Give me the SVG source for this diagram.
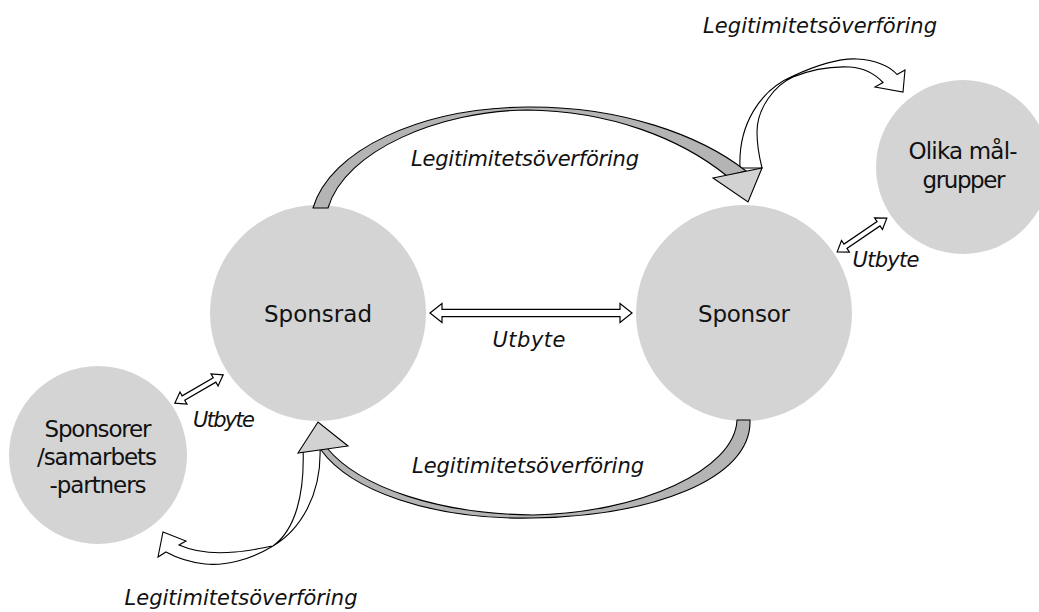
<svg xmlns="http://www.w3.org/2000/svg" width="1039" height="612" viewBox="0 0 1039 612">
  <style>
    .party { fill: #d4d4d4; }
    .label { font-family: "DejaVu Sans", "Liberation Sans", sans-serif; font-size: 23px; fill: #111; text-anchor: middle; }
    .note { font-family: "DejaVu Sans", "Liberation Sans", sans-serif; font-size: 21px; font-style: italic; fill: #111; text-anchor: middle; }
    .band { fill: #b4b4b4; stroke: #000; stroke-width: 1.1; stroke-linejoin: round; }
    .head { fill: #d2d2d2; stroke: #000; stroke-width: 1.1; stroke-linejoin: miter; }
    .ribbon { fill: #fff; stroke: #000; stroke-width: 1.1; stroke-linejoin: miter; }
    .swap { fill: #fff; stroke: #000; stroke-width: 1.2; stroke-linejoin: miter; }
  </style>
  <rect width="1039" height="612" fill="#fff"/>

  <!-- parties -->
  <g id="sponsrad">
    <circle class="party" cx="318" cy="313" r="108"/>
    <text class="label" x="318" y="322" textLength="108">Sponsrad</text>
  </g>
  <g id="sponsor">
    <circle class="party" cx="744" cy="313" r="108"/>
    <text class="label" x="744" y="322" textLength="92">Sponsor</text>
  </g>
  <g id="malgrupper">
    <circle class="party" cx="963" cy="167" r="87"/>
    <text class="label" x="963" y="159" textLength="109">Olika mål-</text>
    <text class="label" x="964" y="188" textLength="83">grupper</text>
  </g>
  <g id="samarbetspartners">
    <circle class="party" cx="98" cy="455" r="89"/>
    <text class="label" x="98" y="437" textLength="107">Sponsorer</text>
    <text class="label" x="97" y="465" textLength="120">/samarbets</text>
    <text class="label" x="98" y="493" textLength="97">-partners</text>
  </g>

  <!-- connectors -->
  <g id="connectors">
    <!-- white legitimacy ribbons passed onward (pinched where the ribbon twists) -->
    <path class="ribbon" d="M 740 168 C 738 125, 760 90, 793 76 C 815 66, 838 58, 857 59 C 875 60, 890 66, 897 74.5 L 905 70 L 903 92 L 875 87 L 883 82.5 C 875 74, 865 68, 850 67 C 830 66, 810 70, 793 77 C 775 85, 757 108, 757 132 C 757 148, 760 160, 762 168 Z"/>
    <path class="ribbon" d="M 320 447 C 322 495, 300 530, 273 546 C 250 560, 225 566, 205 564 C 188 562, 175 557, 166 552 L 158 557 L 163 532 L 186 541 L 179 545 C 195 552, 215 554, 235 552 C 250 551, 262 548, 273 546 C 295 530, 305 495, 303 447 Z"/>

    <!-- gray legitimacy arrow: Sponsrad to Sponsor -->
    <path class="band" d="M 313 208 C 330 150, 420 108, 527 107 C 620 106, 700 135, 746 171 L 727 176 C 680 138, 610 111, 527 110 C 440 111, 345 150, 328 208 Z"/>
    <polygon class="head" points="762,168 748,202 713,178"/>

    <!-- gray legitimacy arrow: Sponsor to Sponsrad -->
    <path class="band" d="M 750 420 C 752 480, 650 516, 533 518 C 430 520, 350 490, 321 450 L 327 448 C 360 488, 440 514, 533 515 C 640 513, 735 470, 737 420 Z"/>
    <polygon class="head" points="298,453 318,422 348,446"/>

    <!-- exchange arrows -->
    <polygon class="swap" transform="translate(531 313)" points="-101,0 -89,-9.5 -89,-3.7 89,-3.7 89,-9.5 101,0 89,9.5 89,3.7 -89,3.7 -89,9.5"/>
    <polygon class="swap" transform="translate(199 389) rotate(-30.3)" points="-28,0 -18,-7 -18,-2.6 18,-2.6 18,-7 28,0 18,7 18,2.6 -18,2.6 -18,7"/>
    <polygon class="swap" transform="translate(862 235) rotate(-34.2)" points="-30,0 -20,-7 -20,-2.6 20,-2.6 20,-7 30,0 20,7 20,2.6 -20,2.6 -20,7"/>
  </g>

  <!-- connector labels -->
  <g id="labels">
    <text class="note" x="820" y="33" textLength="234">Legitimitetsöverföring</text>
    <text class="note" x="525" y="166" textLength="228">Legitimitetsöverföring</text>
    <text class="note" x="528" y="473" textLength="232">Legitimitetsöverföring</text>
    <text class="note" x="241" y="605" textLength="233">Legitimitetsöverföring</text>
    <text class="note" x="529" y="347" textLength="73">Utbyte</text>
    <text class="note" x="224" y="427" textLength="62">Utbyte</text>
    <text class="note" x="886" y="267" textLength="67">Utbyte</text>
  </g>
</svg>
